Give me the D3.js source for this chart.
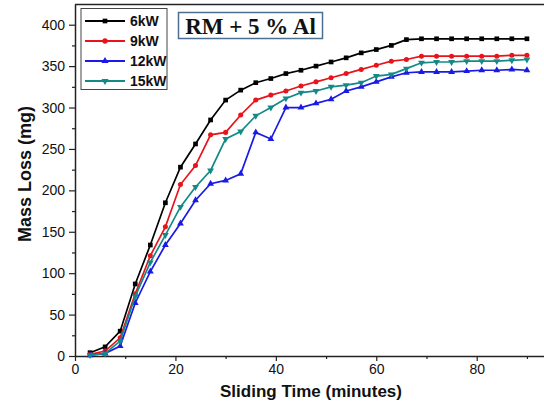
<!DOCTYPE html>
<html><head><meta charset="utf-8">
<script src="https://cdn.jsdelivr.net/npm/d3@7"></script>
<style>body{margin:0;background:#fff}svg{display:block}</style>
</head><body>
<svg id="chart" width="544" height="404"></svg>
<script>
const times = [3,6,9,12,15,18,21,24,27,30,33,36,39,42,45,48,51,54,57,60,63,66,69,72,75,78,81,84,87,90];
const kw6  = [4,11,30,87,134,185,228,256,285,309,321,330,335,341,345,350,355,360,366,370,375,382,383,383,383,383,383,383,383,383];
const kw9  = [2,6,22,75,121,156,207,230,267,270,291,309,315,320,326,331,336,341,346,351,356,358,362,362,362,362,362,362,363,363];
const kw15 = [1,3,18,72,113,146,180,204,224,262,271,290,300,311,318,320,325,327,330,338,340,347,354,355,355,356,356,356,357,358];
const kw12 = [1,3,12,64,102,134,160,188,208,212,220,270,262,300,300,305,310,320,325,331,337,342,343,343,343,344,345,345,346,345];
const seriesNames = ["6kW","9kW","12kW","15kW"];
const seriesValues = [kw6, kw9, kw12, kw15];
const seriesColors = ["#000000","#e8141c","#1a1ae6","#138a88"];
const seriesSymbols = [d3.symbolSquare, d3.symbolCircle, d3.symbolTriangle, d3.symbolTriangle];
const yTicks = [0,50,100,150,200,250,300,350,400];
const xTicks = [0,20,40,60,80];
const title = "RM + 5 % Al";

const svg = d3.select("#chart");
const x = d3.scaleLinear().domain([0, 93.6]).range([75, 545]);
const y = d3.scaleLinear().domain([0, 425]).range([356, 4]);
const font = "'Liberation Sans', Arial, sans-serif";

// frame top
svg.append("line").attr("x1",75).attr("x2",544).attr("y1",4.5).attr("y2",4.5).attr("stroke","#222").attr("stroke-width",1.5);

// y axis
svg.append("g").attr("transform","translate(75,0)")
  .call(d3.axisLeft(y).tickValues(yTicks).tickSize(6).tickPadding(4).tickSizeOuter(0));
svg.append("g").attr("transform","translate(75,0)")
  .call(d3.axisLeft(y).tickValues(d3.range(25,425,50)).tickSize(3).tickFormat(""))
  .call(g=>g.select(".domain").remove());
// x axis
svg.append("g").attr("transform","translate(0,356)")
  .call(d3.axisBottom(x).tickValues(xTicks).tickSize(5).tickPadding(3).tickSizeOuter(0));
svg.append("g").attr("transform","translate(0,356)")
  .call(d3.axisBottom(x).tickValues([10,30,50,70,90]).tickSize(3).tickFormat(""))
  .call(g=>g.select(".domain").remove());
svg.selectAll(".domain").attr("stroke","#222").attr("stroke-width",1.5);
svg.selectAll(".tick line").attr("stroke","#222").attr("stroke-width",1.2);
svg.selectAll(".tick text").attr("font-family",font).attr("font-size",14).attr("fill","#111");

// series
const line = d3.line().x((d,i)=>x(times[i])).y(d=>y(d));
seriesValues.forEach((vals, s) => {
  svg.append("path").datum(vals).attr("d", line).attr("fill","none")
    .attr("stroke", seriesColors[s]).attr("stroke-width",1.7);
  const sym = d3.symbol().type(seriesSymbols[s]).size(s===0?22:20);
  svg.append("g").selectAll("path").data(vals).join("path")
    .attr("d", sym)
    .attr("transform",(d,i)=>`translate(${x(times[i])},${y(d)})${s===3?" rotate(180)":""}`)
    .attr("fill", seriesColors[s]);
});

// legend
const lg = svg.append("g");
lg.append("rect").attr("x",81).attr("y",8.5).attr("width",86).attr("height",81)
  .attr("fill","#fff").attr("stroke","#444").attr("stroke-width",1);
seriesNames.forEach((n, s) => {
  const yy = 21 + s*20;
  lg.append("line").attr("x1",85).attr("x2",125).attr("y1",yy).attr("y2",yy)
    .attr("stroke",seriesColors[s]).attr("stroke-width",1.8);
  lg.append("path").attr("d", d3.symbol().type(seriesSymbols[s]).size(22))
    .attr("transform",`translate(105,${yy})${s===3?" rotate(180)":""}`).attr("fill",seriesColors[s]);
  lg.append("text").attr("x",130).attr("y",yy+5).text(n)
    .attr("font-family",font).attr("font-weight","bold").attr("font-size",14).attr("fill","#111");
});

// title box
svg.append("rect").attr("x",178.5).attr("y",12.5).attr("width",144).attr("height",26)
  .attr("fill","#fff").attr("stroke","#4d6f8f").attr("stroke-width",1.5);
svg.append("text").attr("x",250.5).attr("y",33.5).attr("text-anchor","middle").text(title)
  .attr("font-family","'Liberation Serif', 'Times New Roman', serif").attr("font-weight","bold")
  .attr("font-size",23).attr("fill","#111");

// axis titles
svg.append("text").attr("x",311).attr("y",397).attr("text-anchor","middle").text("Sliding Time (minutes)")
  .attr("font-family",font).attr("font-weight","bold").attr("font-size",17).attr("fill","#111");
svg.append("text").attr("transform","translate(31,174) rotate(-90)").attr("text-anchor","middle").text("Mass Loss (mg)")
  .attr("font-family",font).attr("font-weight","bold").attr("font-size",18).attr("fill","#111");
</script>
</body></html>
